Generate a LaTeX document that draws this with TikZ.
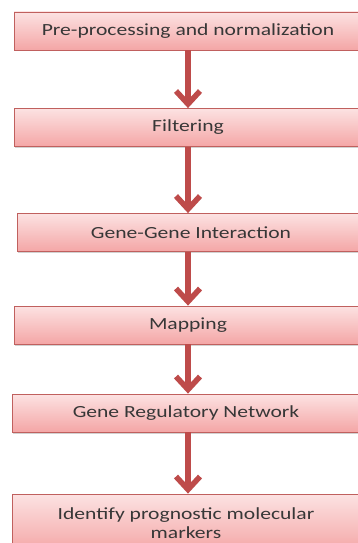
\documentclass[tikz,border=0pt]{standalone}
\usepackage{fontspec}
\setmainfont{Carlito}
\newfontfamily\boxfont[FakeStretch=1.27]{Carlito}
\usetikzlibrary{arrows.meta,shadows}
\definecolor{boxedge}{RGB}{192,96,94}
\definecolor{boxtop}{RGB}{252,226,226}
\definecolor{boxbot}{RGB}{244,166,166}
\definecolor{arrowred}{RGB}{190,75,74}
\definecolor{txt}{RGB}{55,55,55}
\tikzset{
  stepbox/.style={draw=boxedge, line width=0.8pt, top color=boxtop, bottom color=boxbot,
    minimum width=348pt, minimum height=38pt, inner sep=0pt, text=txt,
    font=\boxfont\fontsize{17}{19.5}\selectfont, align=center,
    drop shadow={shadow xshift=1pt, shadow yshift=-1.5pt, fill=black!35, opacity=0.5}},
  flow/.style={draw=arrowred, line width=6pt,
    -{Straight Barb[length=13pt, width=24pt, line width=5.5pt]}}
}
\begin{document}
\begin{tikzpicture}[x=1pt,y=-1pt]
\useasboundingbox (0,0) rectangle (358,543);
\clip (0,0) rectangle (358,543);
\node[stepbox] (b1) at (188,31) {Pre-processing and normalization};
\node[stepbox] (b2) at (188,127.5) {Filtering};
\node[stepbox] (b3) at (191,232.5) {Gene-Gene Interaction};
\node[stepbox] (b4) at (188,325) {Mapping};
\node[stepbox] (b5) at (186,413) {Gene Regulatory Network};
\node[stepbox, minimum height=58pt] (b6) at (186,523) {Identify prognostic molecular\\markers};
\draw[flow] (b1.south -| 188,0) -- (b2.north -| 188,0);
\draw[flow] (b2.south -| 188,0) -- (b3.north -| 188,0);
\draw[flow] (b3.south -| 188,0) -- (b4.north -| 188,0);
\draw[flow] (b4.south -| 188,0) -- (b5.north -| 188,0);
\draw[flow] (b5.south -| 188,0) -- (b6.north -| 188,0);
\end{tikzpicture}
\end{document}
